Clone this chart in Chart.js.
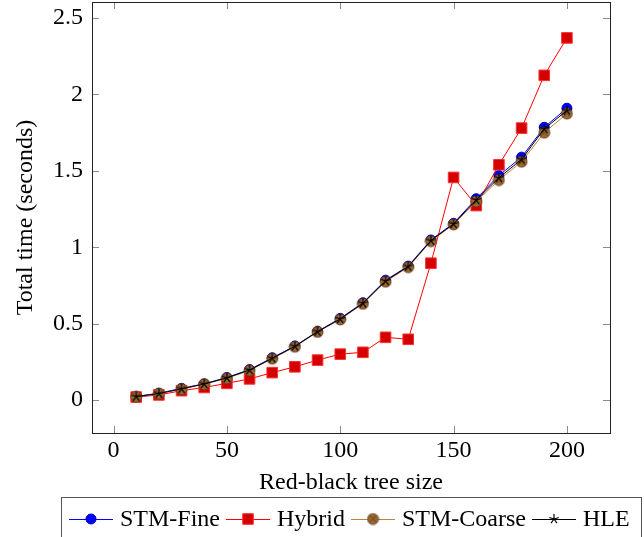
<!DOCTYPE html>
<html lang="en">
<head>
<meta charset="UTF-8">
<title>Total time vs red-black tree size</title>
<script src="https://cdn.jsdelivr.net/npm/chart.js"></script>
<style>
    body { margin: 0; background: #fff; }
    .chart-box { width: 644px; height: 537px; }
</style>
</head>
<body>
<div class="chart-box">
    <canvas id="timeChart" width="644" height="537"></canvas>
</div>
<script>
    // data
    const treeSizes = [10, 20, 30, 40, 50, 60, 70, 80, 90, 100, 110, 120, 130, 140, 150, 160, 170, 180, 190, 200];
    const stmFine   = [0.025, 0.045, 0.077, 0.107, 0.148, 0.2, 0.277, 0.354, 0.45, 0.535, 0.637, 0.785, 0.877, 1.048, 1.157, 1.318, 1.47, 1.59, 1.785, 1.91];
    const hybrid    = [0.02, 0.034, 0.062, 0.083, 0.11, 0.139, 0.18, 0.218, 0.262, 0.301, 0.313, 0.411, 0.398, 0.896, 1.457, 1.273, 1.54, 1.78, 2.125, 2.37];
    const stmCoarse = [0.022, 0.042, 0.072, 0.104, 0.143, 0.194, 0.271, 0.349, 0.446, 0.528, 0.63, 0.775, 0.87, 1.04, 1.15, 1.3, 1.44, 1.56, 1.75, 1.875];
    const hle       = [0.023, 0.043, 0.074, 0.106, 0.146, 0.197, 0.274, 0.352, 0.448, 0.531, 0.634, 0.78, 0.874, 1.044, 1.153, 1.31, 1.455, 1.575, 1.775, 1.895];
    const seriesNames = ['STM-Fine', 'Hybrid', 'STM-Coarse', 'HLE'];
    const xTicks = [0, 50, 100, 150, 200];
    const yTicks = [0, 0.5, 1, 1.5, 2, 2.5];

    const FONT = 'Liberation Serif, Times New Roman, serif';

    // brown circle with a cross inside (pgfplots otimes*)
    function makeOtimes(r) {
        const c = document.createElement('canvas');
        const s = Math.ceil(r * 2 + 2);
        c.width = s; c.height = s;
        const g = c.getContext('2d');
        const m = s / 2;
        g.beginPath();
        g.arc(m, m, r, 0, Math.PI * 2);
        g.fillStyle = '#9a6633';
        g.fill();
        g.lineWidth = 0.8;
        g.strokeStyle = '#5a3a1a';
        g.stroke();
        const d = r * 0.62;
        g.beginPath();
        g.moveTo(m - d, m - d); g.lineTo(m + d, m + d);
        g.moveTo(m - d, m + d); g.lineTo(m + d, m - d);
        g.stroke();
        return c;
    }

    // five ray star (pgfplots star)
    function makeStar(r) {
        const c = document.createElement('canvas');
        const s = Math.ceil(r * 2 + 2);
        c.width = s; c.height = s;
        const g = c.getContext('2d');
        const m = s / 2;
        g.strokeStyle = '#000';
        g.lineWidth = 1.2;
        g.beginPath();
        for (let i = 0; i < 5; i++) {
            const a = -Math.PI / 2 + i * 2 * Math.PI / 5;
            g.moveTo(m, m);
            g.lineTo(m + r * Math.cos(a), m + r * Math.sin(a));
        }
        g.stroke();
        return c;
    }

    const coarseMark = makeOtimes(5.5);
    const starMark = makeStar(5);

    function pts(values) {
        return treeSizes.map((x, i) => ({ x: x, y: values[i] }));
    }

    const styles = [
        { line: '#0000ff', pointStyle: 'circle', radius: 5, fill: '#0000ff', border: '#0000b0', bw: 1 },
        { line: '#ff0000', pointStyle: 'rect', radius: 7.5, fill: '#d40000', border: '#ff3030', bw: 1 },
        { line: '#bf8040', pointStyle: coarseMark, radius: 6, fill: '#9a6633', border: '#5a3a1a', bw: 0 },
        { line: '#000000', pointStyle: starMark, radius: 5, fill: '#000', border: '#000', bw: 0 }
    ];
    const allValues = [stmFine, hybrid, stmCoarse, hle];

    const datasets = seriesNames.map((name, i) => ({
        label: name,
        data: pts(allValues[i]),
        borderColor: styles[i].line,
        borderWidth: 1,
        backgroundColor: styles[i].fill,
        pointStyle: styles[i].pointStyle,
        pointRadius: styles[i].radius,
        pointHoverRadius: styles[i].radius,
        pointBackgroundColor: styles[i].fill,
        pointBorderColor: styles[i].border,
        pointBorderWidth: styles[i].bw,
        tension: 0,
        order: 4 - i
    }));

    // frame, inward ticks and the legend box below
    const framePlugin = {
        id: 'frame',
        beforeDatasetsDraw(chart) {
            const { ctx, chartArea: a, scales } = chart;
            ctx.save();
            ctx.strokeStyle = '#8a8a8a';
            ctx.lineWidth = 1;
            const tl = 7;
            ctx.beginPath();
            xTicks.forEach(v => {
                const px = Math.round(scales.x.getPixelForValue(v)) + 0.5;
                ctx.moveTo(px, a.bottom); ctx.lineTo(px, a.bottom - tl);
                ctx.moveTo(px, a.top); ctx.lineTo(px, a.top + tl);
            });
            yTicks.forEach(v => {
                const py = Math.round(scales.y.getPixelForValue(v)) + 0.5;
                ctx.moveTo(a.left, py); ctx.lineTo(a.left + tl, py);
                ctx.moveTo(a.right, py); ctx.lineTo(a.right - tl, py);
            });
            ctx.stroke();
            ctx.restore();
        },
        afterDraw(chart) {
            const { ctx, chartArea: a } = chart;
            ctx.save();
            ctx.strokeStyle = '#222';
            ctx.lineWidth = 1;
            ctx.strokeRect(Math.round(a.left) + 0.5, Math.round(a.top) + 0.5,
                Math.round(a.right - a.left), Math.round(a.bottom - a.top));

            // legend
            ctx.strokeStyle = '#555';
            ctx.strokeRect(61.5, 497.5, 580, 60);
            ctx.font = '24px ' + FONT;
            ctx.textBaseline = 'middle';
            ctx.fillStyle = '#000';
            const ly = 519;
            let x = 69;
            seriesNames.forEach((name, i) => {
                const st = styles[i];
                ctx.strokeStyle = st.line;
                ctx.lineWidth = 1;
                ctx.beginPath();
                ctx.moveTo(x, ly + 0.5); ctx.lineTo(x + 44, ly + 0.5);
                ctx.stroke();
                ctx.fillStyle = st.fill;
                ctx.strokeStyle = st.border;
                ctx.lineWidth = st.bw;
                const r = st.pointStyle === starMark ? 4 : st.radius;
                Chart.helpers.drawPoint(ctx, { pointStyle: st.pointStyle, radius: r, rotation: 0, borderWidth: st.bw }, x + 22, ly);
                ctx.fillStyle = '#000';
                ctx.fillText(name, x + 51, ly + 1);
                x += 51 + ctx.measureText(name).width + 6;
            });
            ctx.restore();
        }
    };

    const tickFont = { family: FONT, size: 24 };

    new Chart(document.getElementById('timeChart'), {
        type: 'line',
        data: { datasets: datasets },
        options: {
            responsive: false,
            animation: false,
            devicePixelRatio: 1,
            layout: { autoPadding: false, padding: { left: 0, top: 2, right: 34, bottom: 40 } },
            plugins: {
                legend: { display: false },
                tooltip: { enabled: false }
            },
            scales: {
                x: {
                    type: 'linear',
                    min: -9.5,
                    max: 219,
                    afterBuildTicks: s => { s.ticks = xTicks.map(v => ({ value: v })); },
                    afterFit: s => { s.height = 64; s.paddingLeft = 0; s.paddingRight = 0; },
                    grid: { display: false, drawTicks: false },
                    border: { display: false },
                    ticks: { font: tickFont, color: '#000', padding: 3, maxRotation: 0, callback: v => String(v) },
                    title: {
                        display: true,
                        text: 'Red-black tree size',
                        font: tickFont,
                        color: '#000',
                        padding: { top: 0, bottom: 0 }
                    }
                },
                y: {
                    type: 'linear',
                    min: -0.215,
                    max: 2.605,
                    afterBuildTicks: s => { s.ticks = yTicks.map(v => ({ value: v })); },
                    afterFit: s => { s.width = 92; s.paddingTop = 0; s.paddingBottom = 0; },
                    grid: { display: false, drawTicks: false },
                    border: { display: false },
                    ticks: { font: tickFont, color: '#000', padding: 9, callback: v => String(v) },
                    title: {
                        display: true,
                        text: 'Total time (seconds)',
                        font: tickFont,
                        color: '#000',
                        padding: { top: 11, bottom: 0 }
                    }
                }
            }
        },
        plugins: [framePlugin]
    });
</script>
</body>
</html>
